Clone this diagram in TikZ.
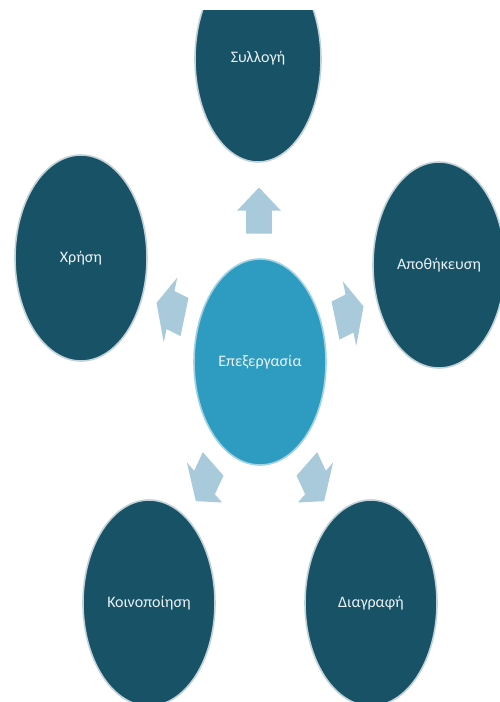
\documentclass[tikz,border=0pt]{standalone}
\usepackage{fontspec}
\setmainfont{Carlito}
\usetikzlibrary{shapes.geometric,calc}

\definecolor{darkteal}{HTML}{185266}
\definecolor{procblue}{HTML}{2E9CC0}
\definecolor{arrowblue}{HTML}{A9CADB}
\definecolor{rimgrey}{HTML}{C3D2D8}
\definecolor{labelwhite}{HTML}{EAF2F5}

\tikzset{
  stage/.style={ellipse, minimum width=132pt, minimum height=206pt, inner sep=0pt,
    fill=darkteal, draw=rimgrey, line width=1.6pt, text=labelwhite,
    font=\fontsize{16}{19}\selectfont},
  hub/.style={stage, fill=procblue, draw=procblue!45!white},
  flow/.style={fill=arrowblue}
}

% block arrow half way between two nodes
\newcommand{\flowarrow}[3]{%
  \begin{scope}[shift={($(#1)!0.5!(#2)$)}, xscale=0.64, rotate=#3]
    \fill[flow] (-23,-20) -- (0,-20) -- (0,-34) -- (23,0) -- (0,34) -- (0,20) -- (-23,20) -- cycle;
  \end{scope}}

\begin{document}
\begin{tikzpicture}[x=1pt, y=-1pt]
\useasboundingbox (0,0) rectangle (500,702);
\clip (0,10) rectangle (500,702);

\node[hub] (proc) at (260,362) {Επεξεργασία};

\node[stage, minimum width=126pt] (coll) at (258,59) {\raisebox{5pt}{Συλλογή}};
\node[stage] (store) at (439,265) {Αποθήκευση};
\node[stage] (use) at (81,258) {Χρήση};
\node[stage] (share) at (149,603) {Κοινοποίηση};
\node[stage] (del) at (371,603) {Διαγραφή};

\flowarrow{proc}{coll}{90}
\flowarrow{proc}{store}{18}
\flowarrow{proc}{use}{162}
\flowarrow{proc}{share}{234}
\flowarrow{proc}{del}{306}
\end{tikzpicture}
\end{document}
